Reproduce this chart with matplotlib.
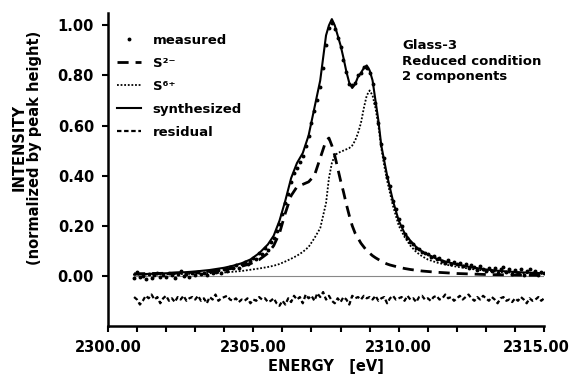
import numpy as np
import matplotlib
matplotlib.use("Agg")
import matplotlib.pyplot as plt
import matplotlib.transforms as mtransforms
from matplotlib.lines import Line2D

# ---------------- data ----------------
# measured grid: 2300.9 .. 2315.0, step 0.1 eV
energy_start = 2300.9
energy_step = 0.1
measured = [
    -0.010,
    0.015, -0.005, 0.000, -0.012, 0.008, -0.008, 0.003, 0.012, -0.006, 0.004,
    -0.004, 0.010, 0.002, -0.008, 0.006, 0.018, 0.000, 0.007, -0.003, 0.012,
    0.005, 0.016, 0.008, 0.012, 0.004, 0.020, 0.010, 0.015, 0.022, 0.013,
    0.028, 0.020, 0.035, 0.030, 0.042, 0.032, 0.048, 0.055, 0.045, 0.060,
    0.070, 0.066, 0.090, 0.085, 0.110, 0.102, 0.135, 0.150, 0.178, 0.205,
    0.245, 0.290, 0.325, 0.375, 0.410, 0.430, 0.455, 0.480, 0.520, 0.560,
    0.610, 0.660, 0.700, 0.755, 0.830, 0.920, 0.990, 1.010, 0.985, 0.950,
    0.915, 0.860, 0.815, 0.765, 0.760, 0.770, 0.800, 0.810, 0.835, 0.830,
    0.810, 0.765, 0.690, 0.610, 0.525, 0.470, 0.395, 0.360, 0.300, 0.265,
    0.225, 0.200, 0.165, 0.150, 0.135, 0.125, 0.110, 0.108, 0.095, 0.090,
    0.088, 0.075, 0.078, 0.065, 0.072, 0.060, 0.052, 0.062, 0.048, 0.055,
    0.045, 0.052, 0.038, 0.046, 0.030, 0.042, 0.035, 0.022, 0.038, 0.028,
    0.020, 0.032, 0.018, 0.030, 0.012, 0.026, 0.035, 0.015, 0.028, 0.008,
    0.022, 0.010, 0.025, 0.005, 0.018, 0.028, 0.012, 0.020, 0.002, 0.015,
    0.010,
]
residual = [
    -0.085,
    -0.095, -0.115, -0.100, -0.080, -0.090, -0.075, -0.095, -0.085, -0.110, -0.090,
    -0.080, -0.100, -0.090, -0.105, -0.085, -0.095, -0.080, -0.100, -0.090, -0.085,
    -0.095, -0.080, -0.100, -0.090, -0.110, -0.085, -0.095, -0.075, -0.100, -0.090,
    -0.085, -0.080, -0.095, -0.100, -0.090, -0.105, -0.095, -0.100, -0.090, -0.110,
    -0.095, -0.100, -0.085, -0.095, -0.090, -0.105, -0.100, -0.090, -0.110, -0.120,
    -0.100, -0.115, -0.090, -0.105, -0.080, -0.095, -0.085, -0.110, -0.075, -0.090,
    -0.080, -0.100, -0.070, -0.085, -0.065, -0.095, -0.080, -0.100, -0.110, -0.090,
    -0.105, -0.085, -0.095, -0.115, -0.080, -0.090, -0.085, -0.095, -0.080, -0.090,
    -0.085, -0.095, -0.080, -0.100, -0.090, -0.085, -0.110, -0.090, -0.080, -0.095,
    -0.090, -0.085, -0.100, -0.080, -0.095, -0.090, -0.105, -0.085, -0.080, -0.095,
    -0.090, -0.100, -0.085, -0.080, -0.095, -0.090, -0.075, -0.090, -0.085, -0.100,
    -0.090, -0.080, -0.095, -0.085, -0.075, -0.090, -0.100, -0.085, -0.095, -0.080,
    -0.090, -0.100, -0.085, -0.095, -0.110, -0.090, -0.085, -0.100, -0.095, -0.105,
    -0.090, -0.100, -0.085, -0.095, -0.110, -0.090, -0.100, -0.095, -0.085, -0.100,
    -0.090,
]
energy = np.round(energy_start + energy_step * np.arange(len(measured)), 2)

# fitted components (coarser grid)
fit_energy = [
    2300.9, 2301.5, 2302.0, 2302.5, 2303.0, 2303.5, 2304.0, 2304.3, 2304.6, 2304.9,
    2305.2, 2305.5, 2305.7, 2305.9, 2306.1, 2306.3, 2306.5, 2306.7, 2306.9, 2307.1,
    2307.3, 2307.5, 2307.6, 2307.7, 2307.8, 2307.9, 2308.0, 2308.1, 2308.2, 2308.3,
    2308.4, 2308.5, 2308.6, 2308.7, 2308.8, 2308.9, 2309.0, 2309.1, 2309.2, 2309.3,
    2309.4, 2309.5, 2309.6, 2309.7, 2309.8, 2310.0, 2310.2, 2310.4, 2310.6, 2310.8,
    2311.0, 2311.3, 2311.6, 2312.0, 2312.5, 2313.0, 2313.5, 2314.0, 2314.5, 2315.0,
]
s2_minus = [
    0.008, 0.009, 0.010, 0.012, 0.014, 0.018, 0.024, 0.030, 0.038, 0.048,
    0.064, 0.090, 0.120, 0.170, 0.250, 0.320, 0.355, 0.365, 0.375, 0.400,
    0.470, 0.540, 0.550, 0.520, 0.480, 0.430, 0.380, 0.335, 0.285, 0.240,
    0.200, 0.170, 0.150, 0.130, 0.115, 0.100, 0.090, 0.080, 0.072, 0.065,
    0.058, 0.052, 0.047, 0.043, 0.040, 0.034, 0.029, 0.025, 0.022, 0.019,
    0.017, 0.014, 0.012, 0.009, 0.007, 0.005, 0.004, 0.003, 0.002, 0.002,
]
s6_plus = [
    0.004, 0.005, 0.006, 0.007, 0.008, 0.010, 0.013, 0.016, 0.019, 0.024,
    0.029, 0.035, 0.040, 0.047, 0.057, 0.068, 0.080, 0.095, 0.115, 0.150,
    0.190, 0.290, 0.390, 0.450, 0.480, 0.490, 0.495, 0.500, 0.505, 0.510,
    0.520, 0.540, 0.570, 0.610, 0.670, 0.720, 0.740, 0.720, 0.670, 0.600,
    0.510, 0.440, 0.380, 0.330, 0.280, 0.200, 0.155, 0.120, 0.095, 0.078,
    0.065, 0.053, 0.045, 0.036, 0.027, 0.020, 0.015, 0.012, 0.010, 0.008,
]
synthesized = [
    0.005, 0.008, 0.010, 0.013, 0.017, 0.023, 0.032, 0.040, 0.050, 0.065,
    0.090, 0.125, 0.160, 0.220, 0.300, 0.390, 0.450, 0.490, 0.560, 0.670,
    0.780, 0.960, 1.000, 1.025, 1.000, 0.960, 0.920, 0.870, 0.815, 0.770,
    0.750, 0.765, 0.795, 0.810, 0.830, 0.840, 0.820, 0.780, 0.700, 0.620,
    0.520, 0.460, 0.400, 0.350, 0.300, 0.220, 0.170, 0.140, 0.115, 0.097,
    0.085, 0.068, 0.057, 0.045, 0.034, 0.025, 0.019, 0.015, 0.012, 0.010,
]
baseline = np.zeros(len(energy))

x_ticks_major = [2300, 2305, 2310, 2315]
x_tick_labels = ["2300.00", "2305.00", "2310.00", "2315.00"]
y_ticks = [0.0, 0.2, 0.4, 0.6, 0.8, 1.0]
y_tick_labels = ["0.00", "0.20", "0.40", "0.60", "0.80", "1.00"]

# ---------------- plot ----------------
plt.rcParams['font.family'] = ['DejaVu Sans']
plt.rcParams['font.weight'] = 'bold'

fig = plt.figure(figsize=(5.74, 3.78), dpi=100)
ax = fig.add_axes([0.188, 0.138, 0.760, 0.828])

ax.plot(energy, baseline, color='#888888', lw=0.8, zorder=1)
ax.plot(fit_energy, s6_plus, color='black', lw=1.3, linestyle=(0, (1, 1)), zorder=2)
ax.plot(fit_energy, s2_minus, color='black', lw=2.0, linestyle=(0, (4, 2.5)), zorder=2)
ax.plot(fit_energy, synthesized, color='black', lw=1.5, zorder=3)
ax.plot(energy, measured, linestyle='none', marker='o', ms=1.8, color='black', zorder=4)
ax.plot(energy, residual, color='black', lw=1.6, linestyle=(0, (2, 1.2)), zorder=3)

ax.set_xlim(2300, 2315)
ax.set_ylim(-0.2, 1.05)
ax.set_xticks(x_ticks_major)
ax.set_xticklabels(x_tick_labels)
ax.set_xticks(np.arange(2300, 2316, 1), minor=True)
ax.set_yticks(y_ticks)
ax.set_yticklabels(y_tick_labels)

for s in ['top', 'right']:
    ax.spines[s].set_visible(False)
for s in ['left', 'bottom']:
    ax.spines[s].set_linewidth(1.8)

ax.tick_params(axis='both', which='major', width=1.5, length=4, direction='out')
ax.tick_params(axis='y', which='major', labelsize=10.5, pad=6)
ax.tick_params(axis='x', which='major', labelsize=10.5, pad=6)
ax.tick_params(axis='x', which='minor', width=1.5, length=4, direction='out')
for lab in ax.get_xticklabels() + ax.get_yticklabels():
    lab.set_fontweight('bold')

# nudge last x tick label so it stays inside the figure
last_lab = ax.get_xticklabels()[-1]
last_lab.set_transform(last_lab.get_transform() +
                       mtransforms.ScaledTranslation(-6 / 72, 0, fig.dpi_scale_trans))

ax.set_xlabel("ENERGY   [eV]", fontsize=10.5, fontweight='bold', labelpad=3)
ax.set_ylabel("INTENSITY\n(normalized by peak height)", fontsize=10.5,
              fontweight='bold', linespacing=1.1)
ax.yaxis.set_label_coords(-0.15, 0.57)

handles = [
    Line2D([], [], linestyle='none', marker='o', ms=1.8, color='black'),
    Line2D([], [], color='black', lw=2.0, linestyle=(0, (4, 2.5))),
    Line2D([], [], color='black', lw=1.3, linestyle=(0, (1, 1))),
    Line2D([], [], color='black', lw=1.5),
    Line2D([], [], color='black', lw=1.6, linestyle=(0, (2, 1.2))),
]
labels = ["measured", "S²⁻", "S⁶⁺", "synthesized", "residual"]
leg = ax.legend(handles, labels, loc='upper left', bbox_to_anchor=(0.0, 0.962),
                frameon=False, fontsize=9.5, handlelength=1.8, handletextpad=0.9,
                labelspacing=0.75, borderaxespad=0.3)
for t in leg.get_texts():
    t.set_fontweight('bold')

ax.text(0.674, 0.915, "Glass-3\nReduced condition\n2 components",
        transform=ax.transAxes, fontsize=9.5, fontweight='bold',
        va='top', ha='left', linespacing=1.25)

fig.savefig("out.png", dpi=100)
